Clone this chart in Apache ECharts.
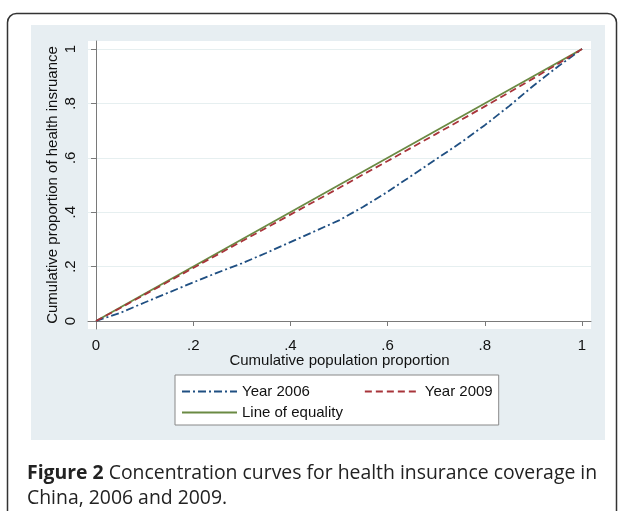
<!DOCTYPE html>
<html>
<head>
<meta charset="utf-8">
<script src="https://cdn.jsdelivr.net/npm/echarts@6/dist/echarts.min.js"></script>
<style>
	html, body { margin: 0; padding: 0; background: #fff; }
	#main { width: 624px; height: 511px; }
</style>
</head>
<body>
<div id="main"></div>
<script>
// cumulative population proportion (x)
var popShare = [0, .05, .1, .15, .2, .25, .3, .35, .4, .45, .5, .55, .6, .65, .7, .75, .8, .85, .9, .95, 1];
// cumulative proportion of health insurance (y)
var cov2006 = [0, .03, .068, .105, .142, .178, .212, .25, .29, .33, .37, .42, .475, .535, .595, .655, .72, .79, .865, .935, 1];
var cov2009 = [0, .048, .097, .146, .195, .244, .293, .342, .391, .44, .489, .539, .588, .638, .688, .738, .789, .84, .892, .945, 1];
var equalityX = [0, 1];
var equalityY = [0, 1];

var tickValues = [0, .2, .4, .6, .8, 1];
var tickLabels = ['0', '.2', '.4', '.6', '.8', '1'];

function pairs(xs, ys) {
	return xs.map(function(x, i) {
		return [x, ys[i]];
	});
}
function tickText(v) {
	for (var i = 0; i < tickValues.length; i++) {
		if (Math.abs(tickValues[i] - v) < 1e-6) return tickLabels[i];
	}
	return '';
}

var myChart = echarts.init(document.getElementById('main'));
var font = '"Liberation Sans", Arial, sans-serif';
var axisGray = '#7a7a7a';
var noSymbol = { color: 'rgba(0,0,0,0)', borderColor: 'rgba(0,0,0,0)', borderWidth: 0, opacity: 0 };

var option = {
	animation: false,
	textStyle: { fontFamily: font },
	graphic: [{
		type: 'rect',
		z: -20,
		shape: { x: 7.5, y: 13.5, width: 609, height: 540, r: 9 },
		style: { fill: '#fff', stroke: '#333', lineWidth: 1.5 }
	}, {
		type: 'rect',
		z: -10,
		shape: { x: 31, y: 25, width: 574, height: 415 },
		style: { fill: '#e7eef2' }
	}, {
		type: 'text',
		left: 27,
		top: 461,
		style: {
			text: '{b|Figure 2} Concentration curves for health insurance coverage in\nChina, 2006 and 2009.',
			fontFamily: '"Open Sans", sans-serif',
			fontSize: 19.4,
			lineHeight: 25,
			fill: '#222',
			rich: {
				b: { fontWeight: 'bold', fontSize: 19.4, fontFamily: '"Open Sans", sans-serif' }
			}
		}
	}],
	grid: {
		left: 88,
		right: 33,
		top: 41,
		bottom: 182,
		show: true,
		backgroundColor: '#fff',
		borderWidth: 0
	},
	legend: [{
		// first row, the box is stretched to hold the second row too
		orient: 'horizontal',
		left: 175,
		top: 375,
		padding: [9, 6, 26, 6],
		itemGap: 54,
		itemWidth: 55,
		itemHeight: 14,
		backgroundColor: '#fff',
		borderColor: '#888',
		borderWidth: 1,
		itemStyle: noSymbol,
		textStyle: { fontSize: 15, color: '#111', fontFamily: font },
		data: ['Year 2006', 'Year 2009']
	}, {
		orient: 'horizontal',
		left: 175,
		top: 405,
		padding: [0, 6, 0, 6],
		itemWidth: 55,
		itemHeight: 14,
		itemStyle: noSymbol,
		textStyle: { fontSize: 15, color: '#111', fontFamily: font },
		data: ['Line of equality']
	}],
	xAxis: {
		type: 'value',
		min: -0.0165,
		max: 1.0185,
		name: 'Cumulative population proportion',
		nameLocation: 'middle',
		nameGap: 24,
		nameMoveOverlap: false,
		nameTextStyle: { fontSize: 15, color: '#111' },
		axisLine: { show: true, lineStyle: { color: axisGray, width: 1 } },
		axisTick: { show: true, length: 5, customValues: tickValues, lineStyle: { color: axisGray } },
		axisLabel: {
			customValues: tickValues,
			formatter: tickText,
			fontSize: 15,
			color: '#111',
			margin: 9
		},
		splitLine: { show: false }
	},
	yAxis: {
		type: 'value',
		min: -0.0294,
		max: 1.0294,
		name: 'Cumulative proportion of health insruance',
		nameLocation: 'middle',
		nameGap: 28,
		nameMoveOverlap: false,
		nameTextStyle: { fontSize: 15, color: '#111' },
		axisLine: { show: true, lineStyle: { color: axisGray, width: 1 } },
		axisTick: { show: true, length: 5, customValues: tickValues, lineStyle: { color: axisGray } },
		axisLabel: {
			customValues: tickValues,
			formatter: tickText,
			rotate: 90,
			fontSize: 15,
			color: '#111',
			margin: 10
		},
		splitLine: { show: true, lineStyle: { color: '#e6eff0', width: 1.2 } }
	},
	series: [{
		name: 'Year 2006',
		type: 'line',
		symbol: 'none',
		z: 3,
		data: pairs(popShare, cov2006),
		itemStyle: { color: '#1f4f82' },
		lineStyle: { color: '#1f4f82', width: 1.8, type: [8, 3, 2, 3] }
	}, {
		name: 'Year 2009',
		type: 'line',
		symbol: 'none',
		z: 3,
		data: pairs(popShare, cov2009),
		itemStyle: { color: '#a8343a' },
		lineStyle: { color: '#a8343a', width: 1.8, type: [7, 4] }
	}, {
		name: 'Line of equality',
		type: 'line',
		symbol: 'none',
		z: 2,
		data: pairs(equalityX, equalityY),
		itemStyle: { color: '#6a8a43' },
		lineStyle: { color: '#6a8a43', width: 1.8, type: 'solid' }
	}]
};
myChart.setOption(option);
</script>
</body>
</html>
